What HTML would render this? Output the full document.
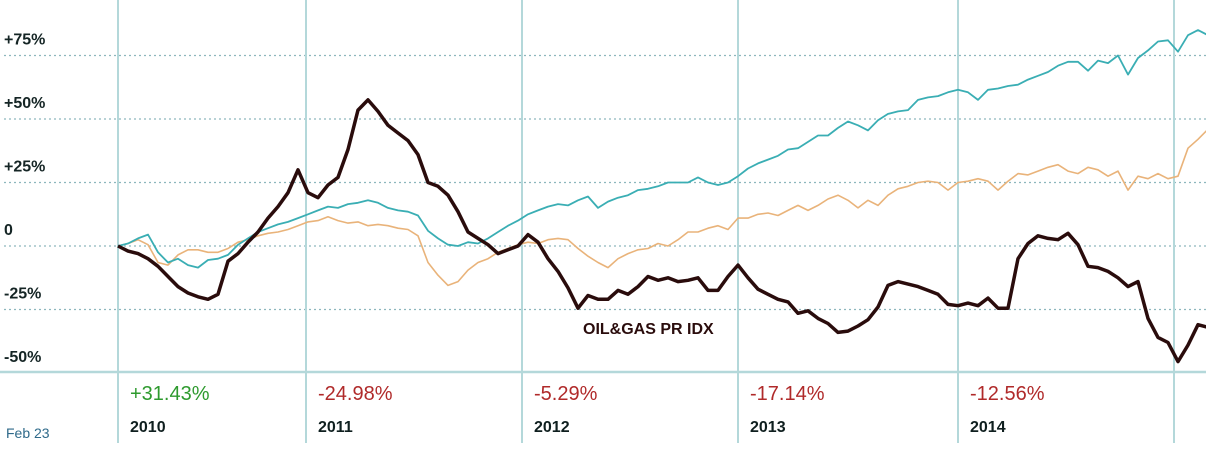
<!DOCTYPE html>
<html><head><meta charset="utf-8"><style>
html,body{margin:0;padding:0;background:#fff;}
svg{display:block;font-family:"Liberation Sans",Arial,sans-serif;}
</style></head><body>
<svg id="chart" width="1206" height="451">
<g id="grid"></g><g id="lines"></g><g id="labels"></g>
</svg>
<script>
const yTicks=[75,50,25,0,-25,-50];
const yTickLabels=["+75%","+50%","+25%","0","-25%","-50%"];
const years=["2010","2011","2012","2013","2014"];
const yearChanges=["+31.43%","-24.98%","-5.29%","-17.14%","-12.56%"];
const yearPos=[0,18.8,40.4,62,84,105.6];
const oilGas=[0,-2,-3,-5,-8,-12,-16,-18.5,-20,-21,-19,-6,-3,1.5,5.5,11,15.5,21,30,21,19,24,27,38,53.5,57.5,53,47.5,44.5,41.5,36,25,23.5,20,13.5,5.5,3,0.5,-3,-1.5,0,4.5,1.5,-5,-10,-16.5,-24.5,-19.5,-21,-21,-17.5,-19,-16,-12,-13.5,-12.5,-14,-13.5,-12.5,-17.5,-17.5,-12,-7.5,-12.5,-17,-19,-21,-22,-26.5,-25.5,-28.5,-30.5,-34,-33.5,-31.5,-29,-24,-15.5,-14,-15,-16,-17.5,-19,-23,-23.5,-22.5,-23.5,-20.5,-24.5,-24.5,-5,1,4,3,2.5,5,0.5,-8,-8.5,-10,-12.5,-16,-14,-28.5,-36,-38,-45.5,-39,-31,-32];
const teal=[0,1,3,4.5,-2.5,-6.5,-5,-7.5,-8.5,-5.5,-5,-3.5,0.5,3,5.5,7,8.5,9.5,11,12.5,14,15.5,15,16.5,17,18,17,15,14,13.5,12,6,3,0.5,0,1.5,1,3,5.5,8,10,12.5,14,15.5,16.5,16,18,19.5,15,17.5,19,20,22,22.5,23.5,25,25,25,27,25,24,25,27.5,30.5,32.5,34,35.5,38,38.5,41,43.5,43.5,46.5,49,47.5,45.5,49.5,52,53,53.5,57.5,58.5,59,60.5,61.5,60.5,57.5,61.5,62,63,63.5,65.5,67,68.5,71,72.5,72.5,69,73,72,75,67.5,74,77,80.5,81,76.5,83,85,83];
const orange=[0,1,2.5,0.5,-6.5,-7.5,-3.5,-1.5,-1.5,-2.5,-2.5,-1,1.5,2.5,4,5,5.5,6.5,8,9.5,10,11.5,10,9,9.5,8,8.5,8,7,6.5,4,-6.5,-11.5,-15.5,-14,-9.5,-6.5,-5,-2.5,-1,0.5,1.5,1,2.5,3,2.5,-1,-4,-6.5,-8.5,-5,-3,-1.5,-1,1,0,2.5,5.5,5.5,7,8,6.5,11,11,12.5,13,12,14,16,14,16,18.5,20,18,15,18,16,20,22.5,23.5,25,25.5,25,22,25,25.5,26.5,25.5,22,25.5,28.5,28,29.5,31,32,29.5,28.5,31,30,27.5,29.5,22,27.5,26.5,28.5,26.5,27.5,38.5,42,46];
const NS="http://www.w3.org/2000/svg";
const X0=118,DX=10,Y0=246,PY=2.54;
function xs(i){return X0+i*DX;}
function ys(v){return Y0-v*PY;}
function mk(tag,attrs,parent){const e=document.createElementNS(NS,tag);for(const k in attrs)e.setAttribute(k,attrs[k]);parent.appendChild(e);return e;}
const grid=document.getElementById('grid'),lines=document.getElementById('lines'),labels=document.getElementById('labels');
yTicks.forEach((t,i)=>{
  if(t>-50){const l=mk('line',{x1:4,x2:1206,y1:ys(t),y2:ys(t),stroke:'#8db6bd','stroke-width':1.2,'stroke-dasharray':'2,3'},grid);
  
  }
  const tx=mk('text',{x:4,y:ys(t)-11,'font-size':16,'font-weight':'bold',fill:'#152525'},labels);
  tx.textContent=yTickLabels[i];
  
  
});
yearPos.forEach((p,i)=>{
  const x=X0+p*DX;
  const l=mk('line',{x1:x,x2:x,y1:0,y2:443,stroke:'#b4d8da','stroke-width':2},grid);
  
  
});
const ax=mk('line',{x1:0,x2:1206,y1:372,y2:372,stroke:'#b4d8da','stroke-width':2.5},grid);


function path(arr,color,w,name){
  const d=arr.map((v,i)=>(i?'L':'M')+xs(i)+' '+ys(v).toFixed(1)).join(' ');
  const p=mk('path',{d:d,fill:'none',stroke:color,'stroke-width':w,'stroke-linejoin':'round'},lines);
  
  
}
path(orange,'#e9b37a',1.6,'series-orange');
path(teal,'#3aaeb4',1.8,'series-teal');
path(oilGas,'#2a0c0c',3.5,'series-oil-gas');
const sl=mk('text',{x:583,y:334,'font-size':16,'font-weight':'bold',fill:'#2a0c0c'},labels);
sl.textContent='OIL&GAS PR IDX';


years.forEach((y,i)=>{
  const x=X0+yearPos[i]*DX+12;
  const c=mk('text',{x:x,y:400,'font-size':20,fill:yearChanges[i][0]=='+'?'#2e9a2e':'#b02a2a'},labels);
  c.textContent=yearChanges[i];
  
  
  const t=mk('text',{x:x,y:432,'font-size':16,'font-weight':'bold',fill:'#0f1f1f'},labels);
  t.textContent=y;
  
  
});
const fb=mk('text',{x:6,y:438,'font-size':14,fill:'#2f6a8a'},labels);
fb.textContent='Feb 23';


</script>
</body></html>
